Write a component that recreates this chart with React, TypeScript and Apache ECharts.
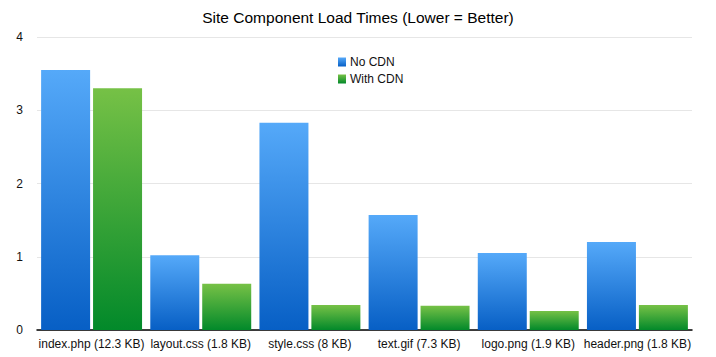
import React, { useEffect, useRef } from "react";
import * as echarts from "echarts";

const categories = [
  "index.php (12.3 KB)",
  "layout.css (1.8 KB)",
  "style.css (8 KB)",
  "text.gif (7.3 KB)",
  "logo.png (1.9 KB)",
  "header.png (1.8 KB)",
];
const noCdn = [3.55, 1.02, 2.83, 1.57, 1.05, 1.2];
const withCdn = [3.3, 0.63, 0.34, 0.33, 0.26, 0.34];
const seriesNames = ["No CDN", "With CDN"];

const FONT = "Liberation Sans, Arial, Helvetica, sans-serif";

export default function App() {
  const ref = useRef<HTMLDivElement>(null);
  useEffect(() => {
    document.body.style.margin = "0";
    const chart = echarts.init(ref.current!, null, { renderer: "svg" });
    const blue = new echarts.graphic.LinearGradient(0, 0, 0, 1, [
      { offset: 0, color: "#55a9f9" },
      { offset: 1, color: "#075fc5" },
    ]);
    const green = new echarts.graphic.LinearGradient(0, 0, 0, 1, [
      { offset: 0, color: "#76c146" },
      { offset: 1, color: "#02892a" },
    ]);
    chart.setOption({
      animation: false,
      textStyle: { fontFamily: FONT },
      title: {
        text: "Site Component Load Times (Lower = Better)",
        left: "center",
        top: 4,
        textStyle: { fontSize: 15.5, fontWeight: "normal", color: "#000", fontFamily: FONT },
      },
      legend: {
        data: seriesNames,
        orient: "vertical",
        left: 333,
        top: 51,
        itemWidth: 8,
        itemHeight: 9,
        itemGap: 5,
        icon: "rect",
        textStyle: { fontSize: 12, color: "#111", fontFamily: FONT, padding: [0, 0, 0, -1] },
      },
      grid: { left: 37, right: 24, top: 37, bottom: 27 },
      xAxis: {
        type: "category",
        data: categories,
        axisTick: { show: false },
        axisLine: { lineStyle: { color: "#000", width: 1.5 } },
        axisLabel: { color: "#111", fontSize: 12, margin: 8, interval: 0, fontFamily: FONT },
      },
      yAxis: {
        type: "value",
        min: 0,
        max: 4,
        interval: 1,
        axisLine: { show: false },
        axisTick: { show: false },
        splitLine: { lineStyle: { color: "#e6e6e6" } },
        axisLabel: { color: "#111", fontSize: 12, margin: 14, fontFamily: FONT },
      },
      series: [
        {
          name: seriesNames[0],
          type: "bar",
          data: noCdn,
          barWidth: 49,
          barGap: "6%",
          itemStyle: { color: blue },
        },
        {
          name: seriesNames[1],
          type: "bar",
          data: withCdn,
          barWidth: 49,
          itemStyle: { color: green },
        },
      ],
    });
    return () => chart.dispose();
  }, []);
  return <div ref={ref} style={{ width: 716, height: 357, position: "absolute", left: 0, top: 0 }} />;
}
